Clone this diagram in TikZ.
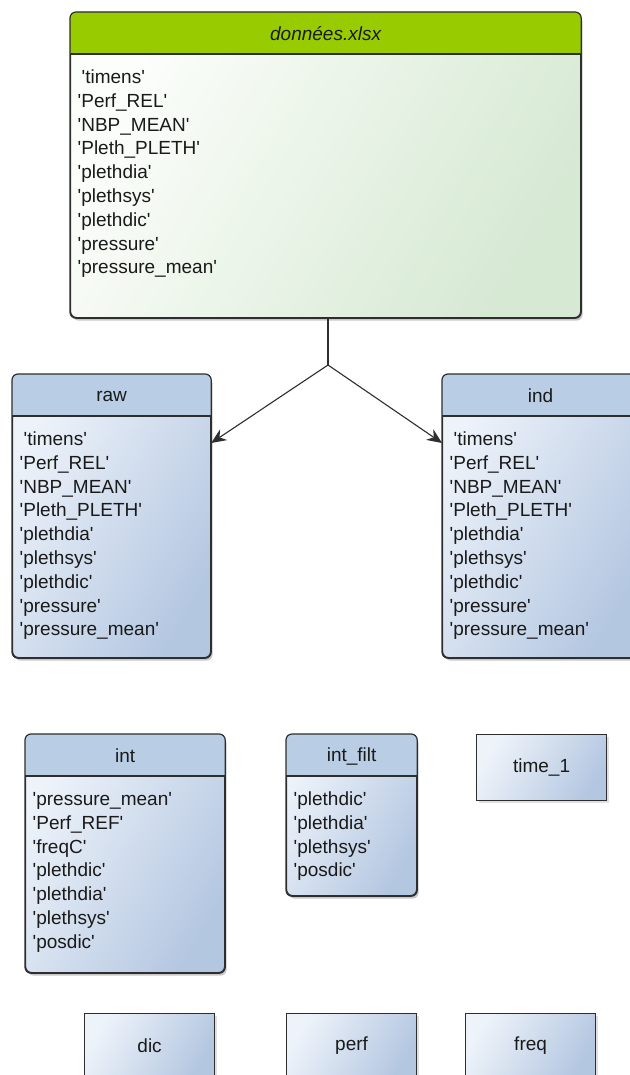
\documentclass[tikz,border=0pt]{standalone}
\usepackage{fontspec}
\setmainfont{Liberation Sans}
\usetikzlibrary{calc,shadows,arrows.meta}
\definecolor{bordercol}{HTML}{2E2E2E}
\definecolor{greenhdr}{HTML}{99CC00}
\definecolor{greentop}{HTML}{FCFEFB}
\definecolor{greenbot}{HTML}{D6E9D3}
\definecolor{bluehdr}{HTML}{B9CDE5}
\definecolor{bluetop}{HTML}{EEF3FA}
\definecolor{bluebot}{HTML}{B4C7E1}
\definecolor{txt}{HTML}{1A1A1A}
\newcommand\q{\textquotesingle}
\tikzset{
  softshadow/.style={drop shadow={opacity=0.22, shadow xshift=2pt, shadow yshift=-3pt, fill=black}},
  greenbody/.style={top color=greentop, bottom color=greenbot, shading angle=60},
  bluebody/.style={top color=bluetop, bottom color=bluebot, shading angle=60},
  tablebox/.style={draw=bordercol, line width=1.2pt, rounded corners=6pt, anchor=north west, inner sep=0pt, softshadow},
  titlefont/.style={font=\fontsize{19}{24}\selectfont, text=txt, inner sep=0pt},
  field/.style={font=\fontsize{19}{24}\selectfont, text=txt, inner sep=0pt, anchor=base west},
  simplebox/.style={draw=bordercol, line width=1.2pt, anchor=north west, inner sep=0pt, bluebody, font=\fontsize{19}{24}\selectfont, text=txt, drop shadow={opacity=0.12, shadow xshift=2pt, shadow yshift=-2pt, fill=black}},
  link/.style={draw=bordercol, line width=1.1pt},
  headfill/.style={fill=bordercol}
}
% #1 name, #2 x, #3 y, #4 w, #5 h, #6 header colour, #7 body style, #8 title
\newcommand\mktable[8]{%
  \node[tablebox, #7, minimum width=#4pt, minimum height=#5pt] (#1) at (#2,#3) {};
  \begin{scope}
    \clip[rounded corners=6pt] (#1.north west) rectangle (#1.south east);
    \fill[#6] (#1.north west) rectangle ($(#1.north east)+(0,42)$);
  \end{scope}
  \draw[line width=1.2pt, bordercol] ($(#1.north west)+(0,42)$) -- ($(#1.north east)+(0,42)$);
  \draw[line width=1.2pt, bordercol, rounded corners=6pt] (#1.north west) rectangle (#1.south east);
  \node[titlefont] (#1-title) at ($(#1.north)+(0,22)$) {#8};
}
% #1 name, #2 list of fields
\newcommand\mkfields[2]{%
  \foreach \f [count=\i] in {#2} {
    \node[field] (#1-f\i) at ($(#1.north west)+(7.5,71.5+23.8*\i-23.8)$) {\f};
  }
}
% arrow from coordinate #1 to coordinate #2 with a filled stealth head
\newcommand\mkarrow[2]{%
  \coordinate (ab) at ($(#2)!15pt!(#1)$);
  \coordinate (ai) at ($(#2)!10pt!(#1)$);
  \draw[link] (#1) -- (ai);
  \fill[headfill] (#2) -- ($(ab)!6.5pt!90:(#2)$) -- (ai) -- ($(ab)!6.5pt!-90:(#2)$) -- cycle;
}
\begin{document}
\begin{tikzpicture}[x=1pt,y=-1pt]
\fill[white] (0,0) rectangle (629,1075);
\useasboundingbox (0,0) rectangle (629,1075);

% top table
\mktable{data}{70}{12}{510}{305}{greenhdr}{greenbody}{\itshape données.xlsx}
\mkfields{data}{\hspace*{4pt}\q timens\q, \q Perf\_REL\q, \q NBP\_MEAN\q, \q Pleth\_PLETH\q, \q plethdia\q, \q plethsys\q, \q plethdic\q, \q pressure\q, \q pressure\_mean\q}

% raw and ind
\mktable{raw}{12}{374}{198}{283}{bluehdr}{bluebody}{raw}
\mkfields{raw}{\hspace*{4pt}\q timens\q, \q Perf\_REL\q, \q NBP\_MEAN\q, \q Pleth\_PLETH\q, \q plethdia\q, \q plethsys\q, \q plethdic\q, \q pressure\q, \q pressure\_mean\q}
\mktable{ind}{442}{374}{196}{283}{bluehdr}{bluebody}{ind}
\mkfields{ind}{\hspace*{4pt}\q timens\q, \q Perf\_REL\q, \q NBP\_MEAN\q, \q Pleth\_PLETH\q, \q plethdia\q, \q plethsys\q, \q plethdic\q, \q pressure\q, \q pressure\_mean\q}

% connectors
\coordinate (j) at (328,365);
\coordinate (rawin) at ($(raw.north east)+(0,69)$);
\coordinate (indin) at ($(ind.north west)+(0,69)$);
\draw[link] (data.south -| j) -- (j);
\mkarrow{j}{rawin}
\mkarrow{j}{indin}

% int and int_filt
\mktable{int}{25}{734}{199}{238}{bluehdr}{bluebody}{int}
\mkfields{int}{\q pressure\_mean\q, \q Perf\_REF\q, \q freqC\q, \q plethdic\q, \q plethdia\q, \q plethsys\q, \q posdic\q}
\mktable{intfilt}{286}{734}{130}{161}{bluehdr}{bluebody}{int\_filt}
\mkfields{intfilt}{\q plethdic\q, \q plethdia\q, \q plethsys\q, \q posdic\q}

% simple boxes
\node[simplebox, minimum width=130pt, minimum height=66pt] (time1) at (476,734) {time\_1};
\node[simplebox, minimum width=130pt, minimum height=64pt] (dic) at (84,1013) {dic};
\node[simplebox, minimum width=130pt, minimum height=64pt] (perf) at (286,1013) {perf};
\node[simplebox, minimum width=130pt, minimum height=64pt] (freq) at (465,1013) {freq};
\end{tikzpicture}
\end{document}
